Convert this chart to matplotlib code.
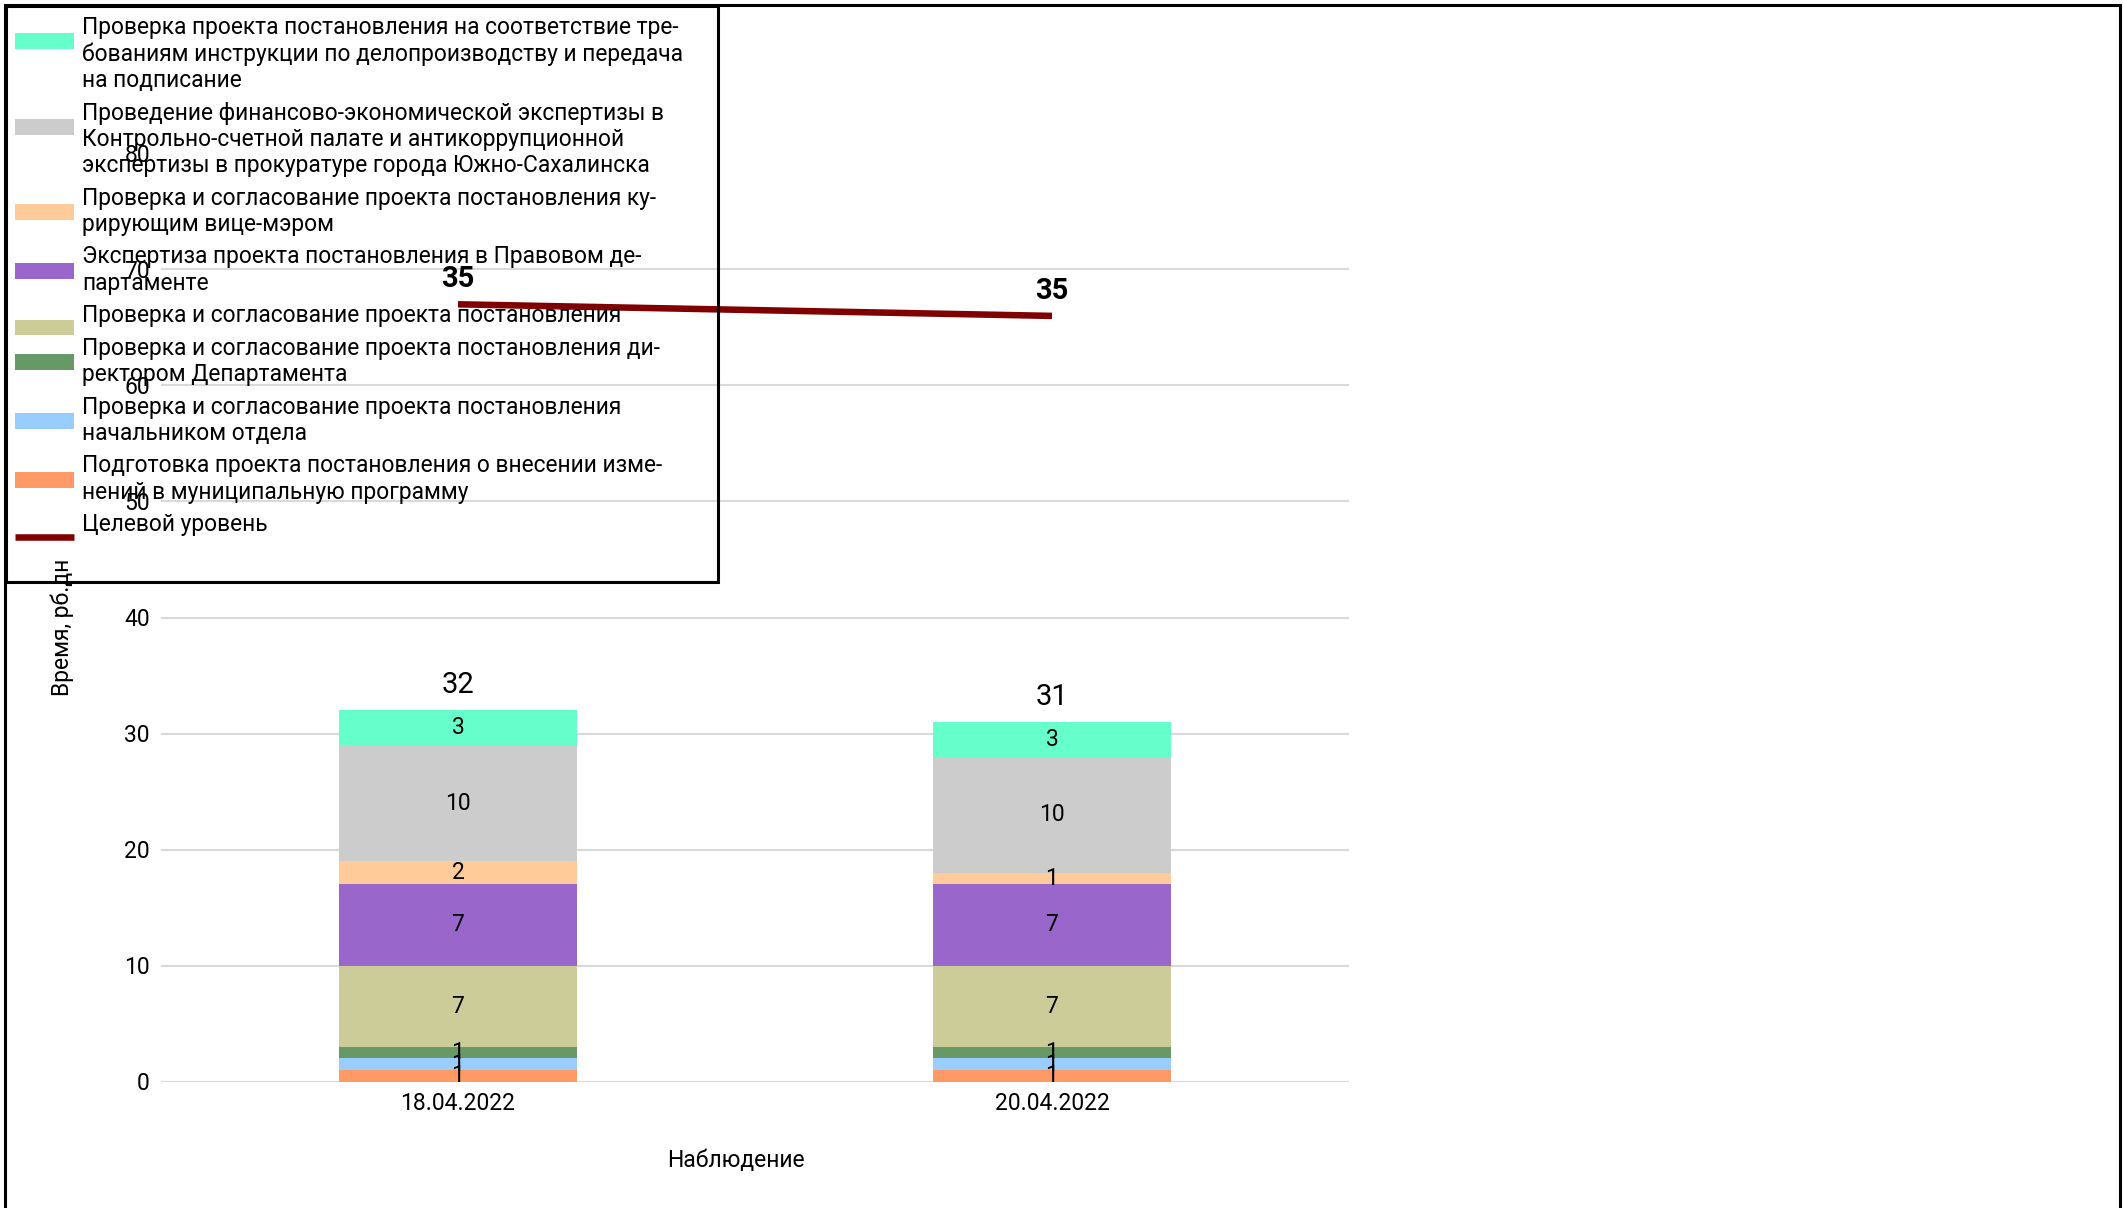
import matplotlib
matplotlib.use("Agg")
import matplotlib.pyplot as plt
from matplotlib.patches import Rectangle
import numpy as np

plt.rcParams['font.family'] = ['Roboto', 'DejaVu Sans']

# data: dates and stacked stage durations (bottom -> top)
dates = ['18.04.2022', '20.04.2022']
stage_names = [
    'Подготовка проекта постановления о внесении изме-\nнений в муниципальную программу',
    'Проверка и согласование проекта постановления\nначальником отдела',
    'Проверка и согласование проекта постановления ди-\nректором Департамента',
    'Проверка и согласование проекта постановления',
    'Экспертиза проекта постановления в Правовом де-\nпартаменте',
    'Проверка и согласование проекта постановления ку-\nрирующим вице-мэром',
    'Проведение финансово-экономической экспертизы в\nКонтрольно-счетной палате и антикоррупционной\nэкспертизы в прокуратуре города Южно-Сахалинска',
    'Проверка проекта постановления на соответствие тре-\nбованиям инструкции по делопроизводству и передача\nна подписание',
]
stage_values = [
    [1, 1],
    [1, 1],
    [1, 1],
    [7, 7],
    [7, 7],
    [2, 1],
    [10, 10],
    [3, 3],
]
stage_colors = ['#FF9966', '#99CCFF', '#669966', '#CCCC99',
                '#9966CC', '#FFCC99', '#CCCCCC', '#66FFCC']
target_name = 'Целевой уровень'
target = [35, 35]

W, H = 2124, 1208
fig = plt.figure(figsize=(W / 100, H / 100), dpi=100)
ax = fig.add_axes([161 / W, 1 - 1081.5 / H, (1349 - 161) / W, 928 / H])

x = np.arange(len(dates))
bottom = np.zeros(len(dates))
containers = []
for vals, col, name in zip(stage_values, stage_colors, stage_names):
    bc = ax.bar(x, vals, 0.4, bottom=bottom, color=col, label=name, zorder=2)
    ax.bar_label(bc, labels=[str(v) for v in vals], label_type='center',
                 fontsize=16.5, zorder=3)
    containers.append(bc)
    bottom = bottom + np.array(vals)

totals = bottom
ax.bar_label(containers[-1], labels=[str(int(t)) for t in totals], padding=8,
             fontsize=21)

# target level is stacked on top of the bars (Excel stacked line)
line_y = totals + np.array(target)
line, = ax.plot(x, line_y, color='#800000', lw=4.7, zorder=4, label=target_name,
                solid_capstyle='butt')
for xi, yi, t in zip(x, line_y, target):
    ax.annotate(str(t), (xi, yi), xytext=(0, 18), textcoords='offset points',
                ha='center', va='center', fontsize=21, fontweight='bold')

ax.set_xlim(-0.5, 1.5)
ax.set_ylim(0, 80)
ax.set_yticks(range(0, 81, 10))
ax.set_xticks(x)
ax.set_xticklabels(dates)
ax.tick_params(length=0, labelsize=16.5)
ax.tick_params(axis='y', pad=8)
ax.tick_params(axis='x', pad=7.5)
ax.grid(axis='y', color='#d9d9d9', lw=1.5, zorder=0)
ax.set_axisbelow(True)
for s in ax.spines.values():
    s.set_visible(False)

ax.set_xlabel('Наблюдение', fontsize=16.5, va='center')
ax.xaxis.set_label_coords(0.484, -0.0846)
ax.set_ylabel('Время, рб.дн', fontsize=16.5, va='center')
ax.yaxis.set_label_coords(-0.0833, 0.489)

handles = containers[::-1] + [line]
labels = stage_names[::-1] + [target_name]
leg = fig.legend(handles, labels, loc='upper left',
                 bbox_to_anchor=(15 / W, 1 - 16 / H), frameon=False,
                 borderpad=0, borderaxespad=0, handlelength=2.6,
                 handleheight=0.7, handletextpad=0.36, labelspacing=0.42,
                 fontsize=16.4)
for t in leg.get_texts():
    t.set_linespacing(1.18)

# Excel puts the legend key a little below the first text line
line_pt = 1.18 * 16.4
for h, lab in zip(leg.legend_handles, labels):
    n = lab.count('\n') + 1
    shift = (n - 1) / 2 * line_pt - 9.5
    if isinstance(h, Rectangle):
        h.set_y(h.get_y() + shift)
    else:
        h.set_ydata(np.asarray(h.get_ydata()) + shift)

# frames: legend box and chart border
fig.patches.append(Rectangle((6 / W, 1 - 582 / H), 712 / W, 576 / H,
                             transform=fig.transFigure, fill=False,
                             ec='black', lw=2.2))
fig.patches.append(Rectangle((5 / W, -0.05), 2115 / W, 1.05 - 5 / H,
                             transform=fig.transFigure, fill=False,
                             ec='black', lw=2.2))

fig.savefig('out.png', dpi=100)
